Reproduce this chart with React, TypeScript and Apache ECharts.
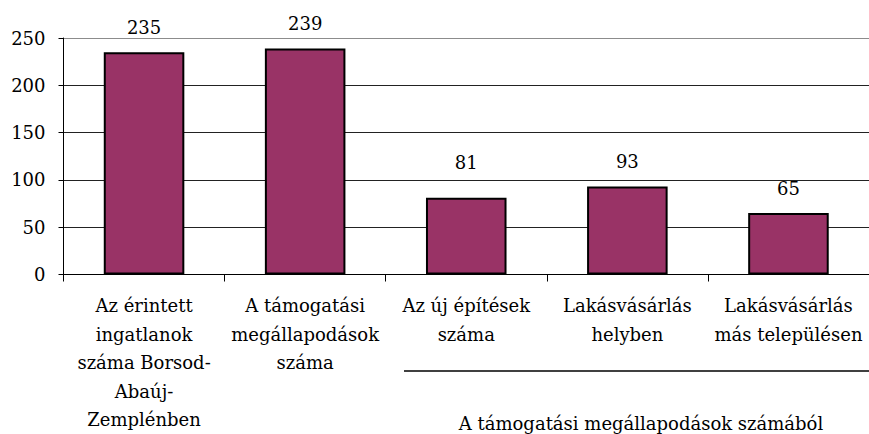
import React, { useEffect, useRef } from "react";
import * as echarts from "echarts";

const categories = [
  "Az érintett\ningatlanok\nszáma Borsod-\nAbaúj-\nZemplénben",
  "A támogatási\nmegállapodások\nszáma",
  "Az új építések\nszáma",
  "Lakásvásárlás\nhelyben",
  "Lakásvásárlás\nmás településen",
];
const values = [235, 239, 81, 93, 65];
const yTicks = { min: 0, max: 250, interval: 50 };
const groupLabel = "A támogatási megállapodások számából";

const FONT = "DejaVu Serif";
const FS = 18;

export default function App() {
  const ref = useRef<HTMLDivElement>(null);
  useEffect(() => {
    if (!ref.current) return;
    const chart = echarts.init(ref.current, null, { renderer: "svg" });
    chart.setOption({
      animation: false,
      backgroundColor: "#ffffff",
      textStyle: { fontFamily: FONT, fontSize: FS },
      grid: { left: 63.5, top: 38, width: 812.5, height: 238, containLabel: false },
      xAxis: {
        type: "category",
        data: categories,
        boundaryGap: true,
        axisLine: { lineStyle: { color: "#000", width: 1 } },
        axisTick: { show: true, length: 7, lineStyle: { color: "#000" }, alignWithLabel: false },
        axisLabel: {
          interval: 0,
          hideOverlap: false,
          margin: 17,
          fontFamily: FONT,
          fontSize: FS,
          lineHeight: 28.5,
          color: "#000",
          align: "center",
        },
      },
      yAxis: {
        type: "value",
        min: yTicks.min,
        max: yTicks.max,
        interval: yTicks.interval,
        axisLine: { show: true, lineStyle: { color: "#000", width: 1 } },
        axisTick: { show: true, length: 5, lineStyle: { color: "#000" } },
        axisLabel: { margin: 18, fontFamily: FONT, fontSize: FS, color: "#000" },
        splitLine: {
          show: true,
          lineStyle: { color: ["#222", "#222", "#222", "#222", "#222", "#8c8c8c"], width: 1 },
        },
      },
      series: [
        {
          type: "bar",
          data: values.map((v, i) =>
            i === 2 ? { value: v, label: { distance: 26 } } : { value: v }
          ),
          barWidth: "50%",
          itemStyle: { color: "#993366", borderColor: "#000", borderWidth: 2 },
          label: {
            show: true,
            position: "top",
            distance: 16,
            fontFamily: FONT,
            fontSize: FS,
            color: "#000",
          },
        },
      ],
      graphic: [
        {
          type: "line",
          shape: { x1: 404, y1: 371, x2: 878, y2: 371 },
          style: { stroke: "#000", lineWidth: 1.5 },
        },
        {
          type: "text",
          x: 641,
          y: 423,
          style: {
            text: groupLabel,
            fontFamily: FONT,
            fontSize: FS,
            fill: "#000",
            align: "center",
            verticalAlign: "middle",
          },
        },
      ],
    });
    return () => chart.dispose();
  }, []);
  return (
    <div
      ref={ref}
      style={{ position: "fixed", left: 0, top: 0, width: 869, height: 434 }}
    />
  );
}
